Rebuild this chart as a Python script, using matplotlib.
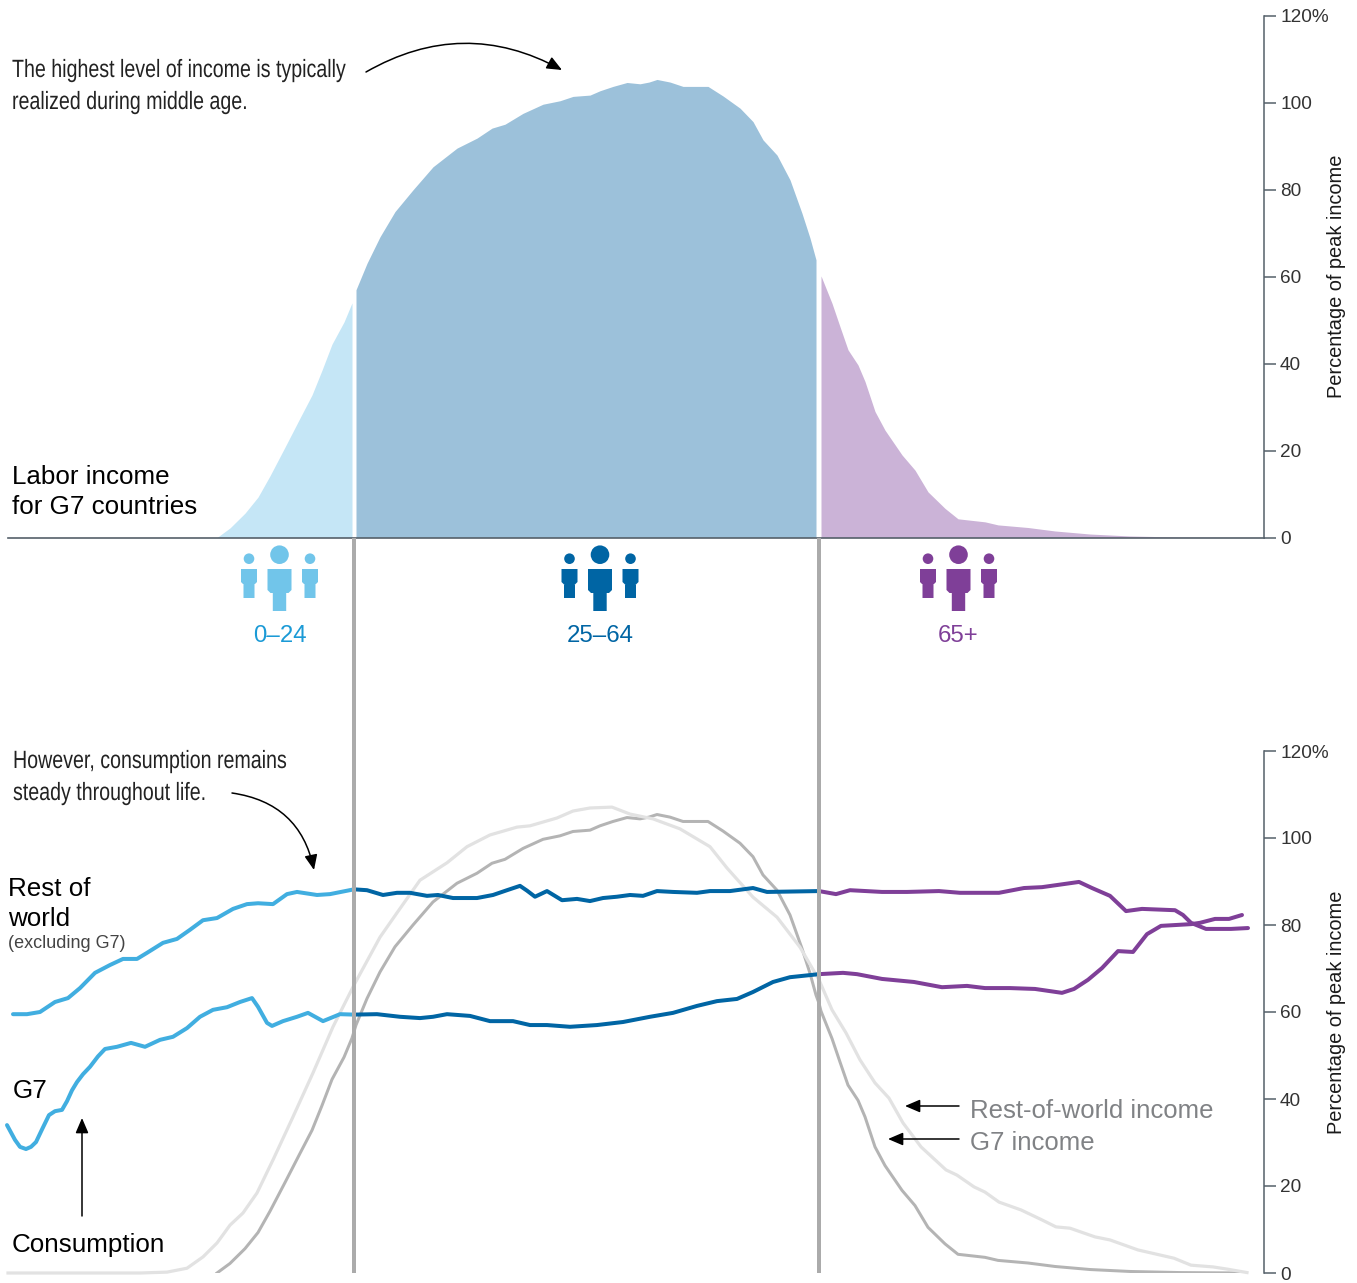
import matplotlib
matplotlib.use('Agg')
import matplotlib.pyplot as plt
import matplotlib.patheffects as pe
import numpy as np
from matplotlib.patches import Circle, FancyArrowPatch, Polygon
from matplotlib.transforms import Affine2D

# horizontal position along the life cycle (no age scale is printed)
g7_income_x = [217, 230, 245, 258, 270, 285, 300, 312, 322, 332, 344, 352, 354, 356, 367, 380, 395, 413, 433, 457,
               477, 492, 505, 523, 543, 560, 573, 590, 600, 613, 627, 640, 649, 657, 670, 683, 708, 723, 740, 753,
               763, 777, 790, 802, 810, 816, 819, 821, 832, 840, 848, 858, 865, 875, 885, 902, 915, 928, 945, 958,
               985, 998, 1028, 1055, 1090, 1130, 1180, 1245]
g7_income = [0, 2.2, 5.6, 9.3, 14.2, 20.8, 27.5, 32.8, 38.5, 44.5, 49.6, 54, 55.5, 57, 63.1, 69.2, 75, 80, 85.3, 89.6,
             91.9, 94.2, 95.1, 97.6, 99.7, 100.5, 101.5, 101.8, 102.8, 103.8, 104.7, 104.4, 104.8, 105.4, 104.8,
             103.8, 103.8, 101.6, 98.8, 95.7, 91.5, 88, 82.3, 74.6, 68.9, 63.9, 62, 60.2, 53.9, 48.5, 43.2, 39.7,
             35.9, 29, 24.7, 19, 15.5, 10.5, 6.7, 4.3, 3.6, 2.9, 2.3, 1.5, 0.8, 0.35, 0.1, 0]

row_income_x = [8, 140, 167, 187, 203, 217, 230, 243, 257, 273, 293, 313, 333, 354, 380, 397, 420, 447, 467, 490, 517,
                530, 557, 573, 590, 612, 630, 653, 680, 710, 727, 753, 777, 800, 819, 832, 846, 860, 875, 889, 903,
                921, 946, 957, 974, 985, 999, 1021, 1042, 1056, 1070, 1095, 1110, 1138, 1174, 1191, 1213, 1227, 1247]
row_income = [0, 0, 0.2, 1.1, 3.7, 6.9, 11, 13.8, 18.4, 26, 35.9, 46, 56.6, 66.2, 77.2, 82.8, 90.3, 94.3, 98, 100.7,
              102.5, 102.8, 104.6, 106.2, 106.9, 107.1, 105.5, 104.4, 102.1, 98, 93.1, 86.4, 81.8, 74.9, 67.4, 60.5,
              55.2, 49, 43.7, 40.2, 34.5, 29, 23.7, 22.5, 19.8, 18.6, 16.3, 14.5, 12.2, 10.6, 10.3, 8.3, 7.6, 5.3,
              3.4, 1.8, 1.4, 0.9, 0.1]

row_cons_x = [13, 27, 40, 55, 68, 80, 95, 110, 123, 137, 147, 163, 177, 190, 203, 217, 233, 247, 258, 273, 287, 297,
              317, 330, 354, 367, 383, 397, 410, 427, 438, 453, 477, 493, 507, 520, 527, 535, 547, 562, 577, 590, 603,
              617, 630, 643, 657, 673, 697, 710, 730, 753, 767, 819, 836, 850, 882, 907, 939, 960, 999, 1024, 1042,
              1079, 1092, 1110, 1126, 1142, 1175, 1183, 1191, 1206, 1231, 1248]
row_cons = [59.5, 59.5, 60, 62.3, 63.2, 65.5, 69, 70.8, 72.2, 72.2, 73.6, 75.9, 76.8, 78.9, 81.1, 81.6, 83.7, 84.8, 85,
            84.8, 87.1, 87.6, 86.9, 87.1, 88.2, 88, 86.9, 87.4, 87.4, 86.7, 86.9, 86.2, 86.2, 86.9, 88, 89, 87.9, 86.5,
            87.8, 85.7, 86, 85.5, 86.2, 86.5, 86.9, 86.7, 87.8, 87.6, 87.4, 87.8, 87.8, 88.5, 87.6, 87.8, 87.1, 88,
            87.6, 87.6, 87.8, 87.4, 87.4, 88.5, 88.7, 89.9, 88.5, 86.7, 83.2, 83.7, 83.4, 82.3, 80.5, 79.1, 79.1, 79.3]

g7_cons_x = [7, 15, 20, 26, 31, 36, 42, 49, 55, 62, 67, 72, 77, 83, 90, 98, 105, 117, 131, 145, 160, 173, 187, 200,
             213, 227, 240, 252, 258, 267, 272, 283, 297, 308, 323, 340, 354, 377, 400, 420, 433, 447, 470, 490, 513,
             530, 547, 570, 597, 623, 650, 673, 697, 717, 737, 753, 773, 790, 819, 843, 857, 882, 914, 942, 967, 985,
             1010, 1035, 1062, 1074, 1088, 1102, 1118, 1133, 1147, 1161, 1191, 1200, 1215, 1229, 1242]
g7_cons = [34, 30.6, 29, 28.5, 29, 30.1, 33, 36.3, 37.2, 37.5, 39.5, 42, 43.9, 45.7, 47.4, 49.8, 51.5, 52, 52.9, 52,
           53.6, 54.3, 56.3, 58.9, 60.5, 61.1, 62.3, 63.2, 61.2, 57.5, 56.8, 57.9, 58.9, 59.8, 57.9, 59.5, 59.4,
           59.5, 58.9, 58.6, 58.9, 59.5, 59.1, 57.9, 57.9, 57, 57, 56.6, 57, 57.7, 58.9, 59.8, 61.4, 62.5, 63, 64.6,
           66.9, 68, 68.7, 69, 68.7, 67.6, 66.9, 65.7, 66, 65.5, 65.5, 65.3, 64.4, 65.3, 67.4, 70.1, 74, 73.8, 77.9,
           79.8, 80.2, 80.5, 81.4, 81.4, 82.3]

group_labels = ['0–24', '25–64', '65+']
tick_vals = [0, 20, 40, 60, 80, 100, 120]
tick_labels = ['0', '20', '40', '60', '80', '100', '120%']

W, H = 1357, 1283
SPLIT_1, SPLIT_2 = 354, 819

plt.rcParams['font.family'] = ['Liberation Sans', 'DejaVu Sans']

LIGHT_BLUE, BLUE, PURPLE = '#41AEE0', '#0065A4', '#7F3F98'
INK = '#1a1a1a'


# no condensed face is installed, so squeeze the glyphs of the notes sideways
class Squeeze(pe.AbstractPathEffect):
    def __init__(self, sx):
        super().__init__()
        self.sx = sx

    def draw_path(self, renderer, gc, tpath, affine, rgbFace=None):
        renderer.draw_path(gc, tpath, Affine2D().scale(self.sx, 1) + affine, rgbFace)


def px(v):
    return v * 0.72


def make_axes(top, bottom):
    ax = fig.add_axes([0, 1 - bottom / H, 1264 / W, (bottom - top) / H])
    ax.set_xlim(0, 1264)
    ax.set_ylim(0, 120)
    ax.patch.set_alpha(0)
    for s in ['top', 'left', 'bottom']:
        ax.spines[s].set_visible(False)
    ax.spines['right'].set_color('#55606a')
    ax.spines['right'].set_linewidth(1.1)
    ax.yaxis.tick_right()
    ax.set_xticks([])
    ax.set_yticks(tick_vals)
    ax.set_yticklabels(tick_labels, fontsize=px(19), color='#333333')
    ax.tick_params(axis='y', length=px(12), width=1.1, color='#55606a', pad=px(4))
    ax.yaxis.set_label_position('right')
    ax.set_ylabel('Percentage of peak income', fontsize=px(20), color=INK, rotation=90, labelpad=px(-2))
    return ax


def split_line(ax, xs, ys, lw, cols):
    xs = np.array(xs)
    ys = np.array(ys)
    for lo, hi, c in zip([0, SPLIT_1, SPLIT_2], [SPLIT_1, SPLIT_2, 9999], cols):
        m = (xs >= lo) & (xs <= hi)
        ax.plot(xs[m], ys[m], color=c, lw=lw, solid_capstyle='round', solid_joinstyle='round')


def person(ov, cx, head, w, body_top, body_bot, leg_w, leg_bot, r, color):
    ov.add_patch(Circle((cx, head), r, fc=color, ec='none'))
    c = 3
    pts = [(cx - w, body_top), (cx + w, body_top), (cx + w, body_bot - c), (cx + w - c, body_bot),
           (cx + leg_w, body_bot), (cx + leg_w, leg_bot), (cx - leg_w, leg_bot), (cx - leg_w, body_bot),
           (cx - w + c, body_bot), (cx - w, body_bot - c)]
    ov.add_patch(Polygon(pts, closed=True, fc=color, ec='none'))


def arrow(ov, start, end, rad=0.0, ms=13):
    ov.add_patch(FancyArrowPatch(start, end, connectionstyle=f'arc3,rad={rad}',
                                 arrowstyle='-|>,head_length=0.7,head_width=0.3',
                                 mutation_scale=ms, lw=1.1, color='black', shrinkA=0, shrinkB=0))


fig = plt.figure(figsize=(W / 100, H / 100), dpi=100)

ax1 = make_axes(16, 537.5)
ax2 = make_axes(751, 1273)

# top panel, three age groups with small white gaps between them
x = np.array(g7_income_x)
y = np.array(g7_income)
m = x <= 352
ax1.fill_between(x[m], 0, y[m], color='#C5E6F6', lw=0)
m = (x >= 356) & (x <= 816)
ax1.fill_between(x[m], 0, y[m], color='#9CC1DA', lw=0)
m = x >= 821
ax1.fill_between(x[m], 0, y[m], color='#CBB3D7', lw=0)

# bottom panel
ax2.plot(g7_income_x, g7_income, color='#B4B4B4', lw=px(3), solid_joinstyle='round')
ax2.plot(row_income_x, row_income, color='#E2E2E2', lw=px(3.2), solid_joinstyle='round', clip_on=False)
split_line(ax2, row_cons_x, row_cons, px(4), [LIGHT_BLUE, BLUE, PURPLE])
split_line(ax2, g7_cons_x, g7_cons, px(4), [LIGHT_BLUE, BLUE, PURPLE])

# overlay in picture pixels for notes, icons and the long rules
ov = fig.add_axes([0, 0, 1, 1])
ov.set_xlim(0, W)
ov.set_ylim(H, 0)
ov.axis('off')
ov.patch.set_alpha(0)

ov.plot([8, 1264], [538, 538], color='#55606a', lw=1.2)
for sx in [SPLIT_1, SPLIT_2]:
    ov.plot([sx, sx], [538, 1273], color='#ABABAB', lw=px(4), solid_capstyle='butt')

icon_cols = ['#71C5EA', BLUE, PURPLE]
label_cols = ['#1B9AD6', BLUE, PURPLE]
for cx, c, lc, lab in zip([279.5, 600, 958.5], icon_cols, label_cols, group_labels):
    person(ov, cx, 554.7, 12, 569, 593, 6.7, 611, 9.3, c)
    person(ov, cx - 30.5, 558.7, 8, 569, 585, 5.5, 598, 5.3, c)
    person(ov, cx + 30.5, 558.7, 8, 569, 585, 5.5, 598, 5.3, c)
    ov.text(cx, 636, lab, color=lc, fontsize=px(24), ha='center', va='center')

notes = [(12, 70, 'The highest level of income is typically'), (12, 102, 'realized during middle age.'),
         (13, 761, 'However, consumption remains'), (13, 793, 'steady throughout life.')]
for nx, ny, t in notes:
    ov.text(nx, ny, t, fontsize=px(25), color='#222222', ha='left', va='center',
            path_effects=[Squeeze(0.785)])

labels = [(12, 477, 'Labor income'), (12, 507, 'for G7 countries'), (8, 889, 'Rest of'), (8, 919, 'world'),
          (13, 1091, 'G7'), (12, 1245, 'Consumption')]
for nx, ny, t in labels:
    ov.text(nx, ny, t, fontsize=px(26), color='black', ha='left', va='center')
ov.text(8, 944, '(excluding G7)', fontsize=px(18), color='#444444', ha='left', va='center')
ov.text(970, 1111, 'Rest-of-world income', fontsize=px(25.8), color='#808285', ha='left', va='center')
ov.text(970, 1143, 'G7 income', fontsize=px(25.8), color='#808285', ha='left', va='center')

arrow(ov, (366, 72), (562, 70), rad=-0.28)
arrow(ov, (232, 793), (314, 870), rad=-0.35)
arrow(ov, (82, 1216), (82, 1118))
arrow(ov, (959, 1106), (905, 1106))
arrow(ov, (959, 1139), (888, 1139))

fig.savefig('out.png', dpi=100)
